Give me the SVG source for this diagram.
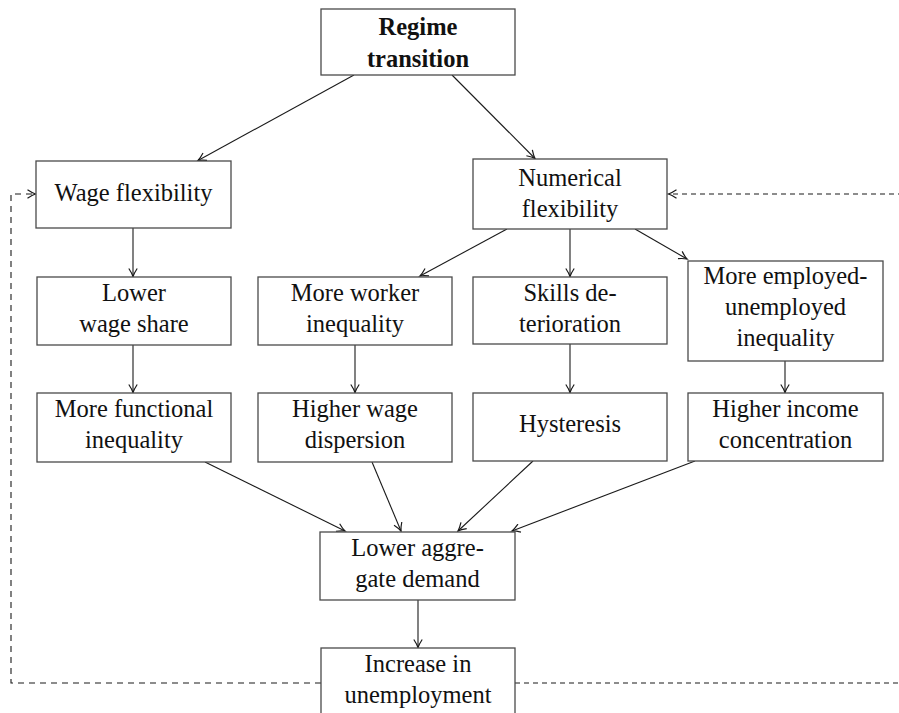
<svg xmlns="http://www.w3.org/2000/svg" width="899" height="713" viewBox="0 0 899 713">
<style>
.box{fill:#fff;stroke:#4a4a4a;stroke-width:1.3}
.t{font-family:"Liberation Serif","DejaVu Serif",serif;font-size:24.5px;fill:#111;text-anchor:middle}
.b{font-weight:bold}
.c{fill:none;stroke:#1a1a1a;stroke-width:1.1}
.d{fill:none;stroke:#1a1a1a;stroke-width:1.1;stroke-dasharray:6 5}
</style>
<defs>
<marker id="ah" markerWidth="12" markerHeight="10" refX="0" refY="0" viewBox="-9 -5 10 10" orient="auto" markerUnits="userSpaceOnUse">
<path d="M-8,-4.2 Q-3,-0.9 0,0 Q-3,0.9 -8,4.2" fill="none" stroke="#1a1a1a" stroke-width="1.2"/>
</marker>
</defs>
<rect width="899" height="713" fill="#fff"/>
<g id="connectors">
<line class="c" x1="354" y1="75" x2="198" y2="160.5" marker-end="url(#ah)"/>
<line class="c" x1="452" y1="75" x2="535" y2="158.5" marker-end="url(#ah)"/>
<line class="c" x1="133" y1="228" x2="133" y2="276.5" marker-end="url(#ah)"/>
<line class="c" x1="133" y1="345" x2="133" y2="392.5" marker-end="url(#ah)"/>
<line class="c" x1="507" y1="229" x2="420" y2="276" marker-end="url(#ah)"/>
<line class="c" x1="570" y1="229" x2="570" y2="276.5" marker-end="url(#ah)"/>
<line class="c" x1="635" y1="229" x2="687" y2="259" marker-end="url(#ah)"/>
<line class="c" x1="355" y1="345" x2="355" y2="392.5" marker-end="url(#ah)"/>
<line class="c" x1="570" y1="344" x2="570" y2="392.5" marker-end="url(#ah)"/>
<line class="c" x1="785" y1="361" x2="785" y2="392.5" marker-end="url(#ah)"/>
<line class="c" x1="205" y1="462" x2="345" y2="531" marker-end="url(#ah)"/>
<line class="c" x1="372" y1="462" x2="401" y2="531" marker-end="url(#ah)"/>
<line class="c" x1="533" y1="461" x2="458" y2="531" marker-end="url(#ah)"/>
<line class="c" x1="695" y1="461" x2="512" y2="531" marker-end="url(#ah)"/>
<line class="c" x1="418" y1="600" x2="418" y2="647.5" marker-end="url(#ah)"/>
<path class="d" d="M321,683 H11 V194 H35.5" marker-end="url(#ah)"/>
<path class="d" style="stroke-dasharray:5 4" d="M515,683 H910 V194 H668.5" marker-end="url(#ah)"/>
</g>
<g id="regime">
<rect class="box" x="321" y="9" width="194" height="66"/>
<text class="t b" x="418" y="35">Regime</text>
<text class="t b" x="418" y="67">transition</text>
</g>
<g id="wage-flex">
<rect class="box" x="36" y="161" width="195" height="67"/>
<text class="t" x="133.5" y="201">Wage flexibility</text>
</g>
<g id="num-flex">
<rect class="box" x="473" y="159" width="194" height="70"/>
<text class="t" x="570" y="186">Numerical</text>
<text class="t" x="570" y="217">flexibility</text>
</g>
<g id="lower-wage-share">
<rect class="box" x="37" y="277" width="194" height="68"/>
<text class="t" x="134" y="301">Lower</text>
<text class="t" x="134" y="332">wage share</text>
</g>
<g id="worker-ineq">
<rect class="box" x="258" y="277" width="194" height="68"/>
<text class="t" x="355" y="301">More worker</text>
<text class="t" x="355" y="332">inequality</text>
</g>
<g id="skills">
<rect class="box" x="473" y="277" width="194" height="67"/>
<text class="t" x="570" y="301">Skills de-</text>
<text class="t" x="570" y="332">terioration</text>
</g>
<g id="emp-unemp">
<rect class="box" x="688" y="261" width="195" height="100"/>
<text class="t" x="785.5" y="284">More employed-</text>
<text class="t" x="785.5" y="315">unemployed</text>
<text class="t" x="785.5" y="346">inequality</text>
</g>
<g id="functional">
<rect class="box" x="37" y="393" width="194" height="69"/>
<text class="t" x="134" y="417">More functional</text>
<text class="t" x="134" y="448">inequality</text>
</g>
<g id="wage-dispersion">
<rect class="box" x="258" y="393" width="194" height="69"/>
<text class="t" x="355" y="417">Higher wage</text>
<text class="t" x="355" y="448">dispersion</text>
</g>
<g id="hysteresis">
<rect class="box" x="473" y="393" width="194" height="68"/>
<text class="t" x="570" y="432">Hysteresis</text>
</g>
<g id="income-conc">
<rect class="box" x="688" y="393" width="195" height="68"/>
<text class="t" x="785.5" y="417">Higher income</text>
<text class="t" x="785.5" y="448">concentration</text>
</g>
<g id="aggregate-demand">
<rect class="box" x="320" y="532" width="195" height="68"/>
<text class="t" x="417.5" y="556">Lower aggre-</text>
<text class="t" x="417.5" y="587">gate demand</text>
</g>
<g id="unemployment">
<rect class="box" x="321" y="648" width="194" height="75"/>
<text class="t" x="418" y="672">Increase in</text>
<text class="t" x="418" y="703">unemployment</text>
</g>
</svg>
